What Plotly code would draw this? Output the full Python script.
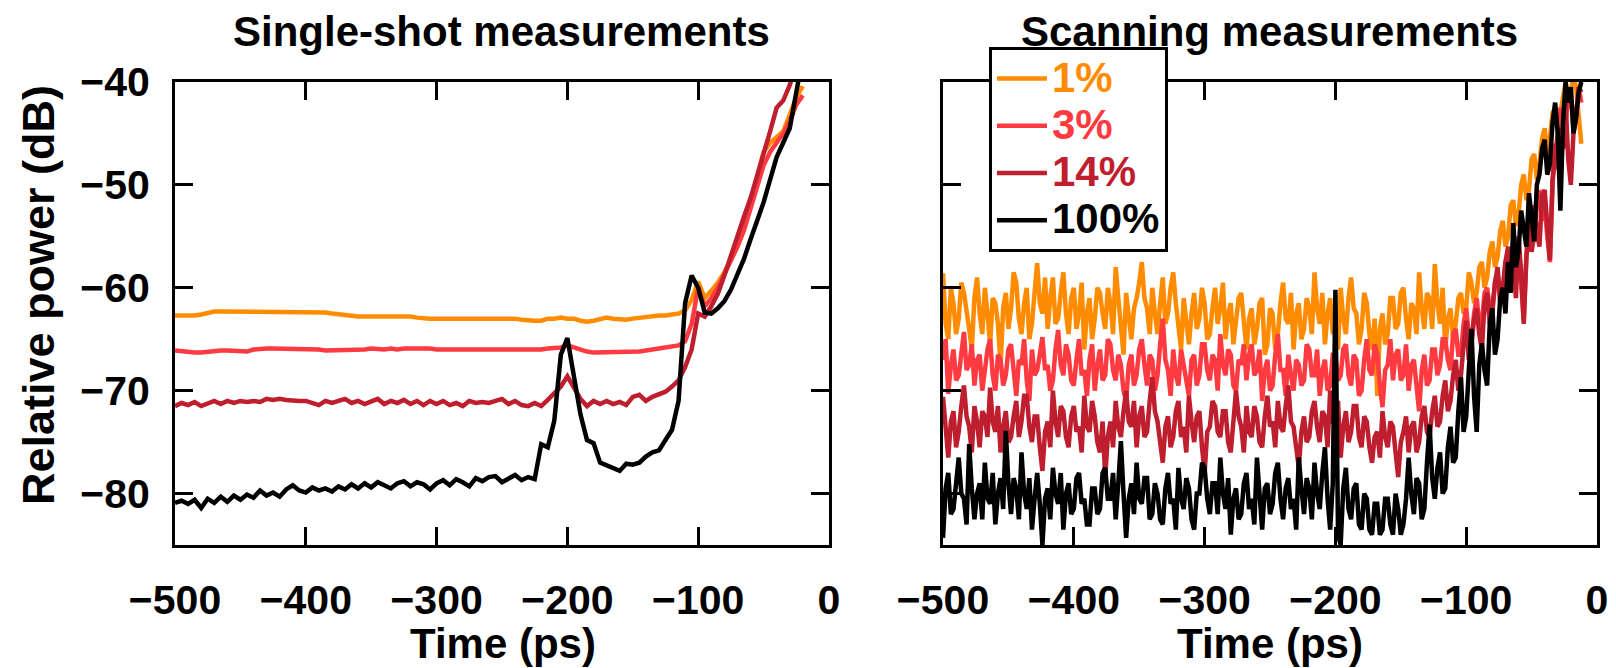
import plotly.graph_objects as go
from plotly.subplots import make_subplots

FONT = "Liberation Sans, Arial, Helvetica, sans-serif"

labels = ["1%", "3%", "14%", "100%"]
colors = ["#FF8C00", "#FF3A40", "#BE1E2D", "#000000"]

x_ticks = [-500, -400, -300, -200, -100, 0]
y_ticks = [-80, -70, -60, -50, -40]

# ---------------- single-shot measurements (time grid, ps) ----------------
t_single = list(range(-500, -15, 5))

single_1 = [
    -62.7, -62.7, -62.8, -62.7, -62.6, -62.4, -62.3, -62.3, -62.3, -62.3,
    -62.3, -62.3, -62.3, -62.3, -62.4, -62.4, -62.4, -62.4, -62.4, -62.4,
    -62.4, -62.4, -62.4, -62.4, -62.5, -62.6, -62.6, -62.7, -62.8, -62.8,
    -62.8, -62.8, -62.8, -62.7, -62.7, -62.7, -62.8, -62.9, -63.0, -63.0,
    -63.0, -63.0, -63.0, -63.0, -62.9, -62.9, -62.9, -62.9, -62.9, -62.9,
    -62.9, -62.9, -63.0, -63.1, -63.2, -63.2, -63.2, -63.0, -63.0, -62.9,
    -63.0, -63.0, -63.2, -63.3, -63.2, -63.0, -62.9, -63.0, -63.1, -63.1,
    -63.0, -62.9, -62.8, -62.8, -62.7, -62.7, -62.6, -62.5, -62.2, -61.2,
    -59.4, -61.0, -60.3, -59.5, -58.5, -57.3, -56.0, -54.2, -51.8, -49.3,
    -46.8, -45.9, -45.3, -44.8, -43.2, -41.5, -40.4,
]
single_3 = [
    -66.1, -66.2, -66.3, -66.3, -66.3, -66.2, -66.2, -66.1, -66.1, -66.1,
    -66.2, -66.2, -66.0, -65.9, -65.9, -65.9, -65.9, -65.9, -65.9, -65.9,
    -65.9, -65.9, -66.0, -66.1, -66.1, -66.0, -66.0, -66.0, -66.0, -66.0,
    -65.9, -66.0, -66.0, -65.9, -66.0, -65.9, -65.9, -65.8, -65.8, -65.9,
    -66.0, -66.0, -66.1, -66.1, -66.1, -66.1, -66.1, -66.1, -66.1, -66.1,
    -66.1, -66.1, -66.1, -66.1, -66.1, -66.0, -66.0, -65.9, -65.9, -65.8,
    -65.6, -65.8, -66.1, -66.2, -66.3, -66.3, -66.3, -66.3, -66.3, -66.3,
    -66.2, -66.2, -66.1, -66.0, -66.0, -65.9, -65.8, -65.6, -65.2, -63.5,
    -60.0, -61.8, -61.0, -60.0, -58.7, -57.4, -56.0, -54.4, -52.3, -50.2,
    -48.1, -46.8, -45.9, -45.0, -43.8, -42.2, -41.3,
]
single_14 = [
    -71.5, -71.2, -71.4, -71.1, -71.5, -71.2, -71.0, -71.3, -71.0, -71.2,
    -71.0, -71.1, -71.0, -71.1, -70.8, -70.9, -70.8, -70.9, -71.0, -71.0,
    -71.0, -71.2, -71.4, -71.0, -71.2, -71.0, -70.8, -71.2, -71.0, -71.3,
    -71.1, -70.8, -71.3, -71.0, -71.2, -70.9, -71.3, -71.0, -71.4, -71.0,
    -71.3, -71.0, -71.4, -71.2, -71.5, -71.0, -71.2, -71.1, -71.2, -71.0,
    -70.8, -71.3, -71.0, -71.4, -71.5, -71.2, -71.5, -70.9, -70.3, -69.6,
    -68.6, -69.8, -70.8, -71.5, -71.0, -71.3, -71.0, -71.3, -71.1, -71.4,
    -70.6, -70.4, -71.0, -70.6, -70.3, -70.1, -69.6, -69.0, -67.7, -66.0,
    -62.5, -62.8, -61.8, -60.6, -58.8, -56.8, -55.0, -53.1, -51.3, -49.2,
    -47.0, -44.8, -42.5, -41.8, -40.3, -38.5, -36.5,
]
single_100 = [
    -80.9, -80.7, -81.0, -80.6, -81.4, -80.5, -80.9, -80.3, -80.8, -80.2,
    -80.6, -80.1, -80.4, -79.7, -80.2, -79.9, -80.3, -79.6, -79.2, -79.7,
    -79.9, -79.4, -79.7, -79.5, -79.8, -79.3, -79.6, -79.1, -79.5, -79.0,
    -79.4, -78.9, -79.2, -79.5, -79.0, -78.8, -79.3, -78.9, -79.1, -79.6,
    -79.0, -78.7, -79.2, -78.6, -78.9, -79.3, -78.5, -78.8, -78.4, -78.3,
    -78.9, -78.5, -78.2, -78.7, -78.4, -78.6, -75.2, -75.5, -72.9, -66.5,
    -64.9, -68.6, -72.3, -74.8, -75.1, -77.0, -77.3, -77.6, -77.8, -77.1,
    -77.2, -77.0, -76.4, -76.0, -75.8, -74.8, -73.8, -71.0, -61.5, -58.8,
    -60.0, -62.4, -62.5, -62.0, -61.3, -60.2, -58.7, -57.2, -55.3, -53.6,
    -51.7, -49.5, -47.3, -45.9, -44.5, -41.0, -37.5,
]

# ---------------- scanning measurements (time grid, ps) ----------------
t_scan = list(range(-500, -11, 2))

scan_1 = [
    -58.6, -63.5, -65.0, -60.0, -61.5, -64.5, -63.0, -59.5, -60.5, -62.0,
    -64.0, -66.0, -61.0, -59.0, -62.5, -64.5, -60.0, -62.5, -65.5, -61.0,
    -61.5, -63.5, -67.5, -62.0, -60.5, -64.0, -62.0, -58.5, -59.5, -63.0,
    -64.5, -61.5, -60.0, -65.0, -63.5, -60.5, -57.6, -61.5, -62.5, -59.0,
    -64.0, -61.0, -59.0, -63.5, -63.0, -60.5, -58.5, -62.5, -64.5, -61.0,
    -60.0, -64.0, -62.5, -59.5, -66.0, -62.5, -61.0, -65.0, -63.0, -60.0,
    -60.5, -62.5, -64.0, -60.0, -61.5, -64.5, -58.0, -61.0, -63.5, -66.5,
    -60.5, -63.0, -65.0, -62.0, -61.0, -59.5, -57.5, -61.0, -62.0, -64.5,
    -60.0, -62.5, -64.5, -61.5, -59.0, -63.5, -62.5, -60.0, -58.5, -61.5,
    -63.5, -66.0, -61.0, -63.0, -65.5, -62.5, -60.5, -64.0, -63.0, -60.0,
    -61.5, -65.0, -64.5, -62.0, -60.0, -63.5, -62.0, -59.5, -65.0, -62.5,
    -61.5, -65.5, -63.5, -61.0, -60.5, -64.0, -66.0, -63.0, -62.0, -65.5,
    -64.0, -61.5, -61.0, -66.5, -65.5, -62.0, -62.5, -66.0, -64.5, -61.5,
    -59.5, -63.0, -63.5, -60.5, -66.0, -62.5, -61.5, -65.0, -64.0, -61.0,
    -62.0, -64.5, -58.5, -62.0, -63.5, -60.5, -65.5, -62.5, -61.0, -64.5,
    -63.5, -66.0, -60.0, -63.0, -64.5, -61.0, -59.0, -62.0, -62.5, -65.5,
    -64.0, -60.5, -61.5, -64.5, -66.0, -63.0, -70.5, -64.0, -62.5, -65.5,
    -64.5, -61.0, -61.0, -64.0, -63.5, -60.5, -60.0, -63.0, -65.0, -61.5,
    -62.0, -64.5, -58.5, -62.0, -64.0, -60.5, -61.0, -64.0, -57.7, -61.5,
    -63.5, -60.0, -66.0, -63.0, -62.0, -65.0, -63.5, -61.0, -60.5, -62.5,
    -62.0, -58.5, -59.5, -61.5, -60.5, -58.0, -57.5, -60.0, -59.0, -56.5,
    -55.5, -58.0, -57.0, -54.5, -53.5, -56.0, -55.0, -52.0, -51.5, -54.0,
    -53.0, -50.0, -49.0, -51.5, -50.5, -47.5, -47.0, -49.5, -48.0, -45.5,
    -44.5, -47.0, -45.5, -43.0, -42.5, -44.5, -43.0, -41.0, -40.0, -42.5,
    -41.0, -39.5, -40.5, -43.0, -46.0,
]
scan_3 = [
    -67.0, -65.0, -70.3, -67.5, -66.0, -69.0, -68.5, -66.5, -64.3, -68.0,
    -67.5, -65.5, -69.5, -67.0, -66.5, -70.0, -68.0, -66.0, -65.0, -68.5,
    -70.0, -66.5, -67.0, -69.5, -68.5, -66.0, -65.5, -68.0, -70.5, -67.0,
    -67.5, -65.0, -69.0, -71.0, -66.0, -68.5, -68.0, -66.5, -64.8, -68.0,
    -67.5, -70.0, -69.0, -66.0, -64.1, -67.5, -68.5, -65.5, -66.5, -69.0,
    -69.5, -67.0, -65.0, -68.5, -68.0, -70.5, -67.0, -65.5, -70.0, -67.5,
    -66.0, -69.0, -68.5, -65.0, -65.5, -68.0, -69.0, -66.5, -67.5, -70.0,
    -71.0, -67.5, -66.5, -69.5, -68.5, -66.0, -65.0, -67.5, -69.5, -66.5,
    -67.0, -70.0, -68.5, -65.5, -63.0, -67.0, -68.0, -70.5, -66.0, -68.5,
    -69.5, -66.0, -67.5, -69.0, -70.5, -67.0, -66.5, -69.5, -68.5, -65.5,
    -65.5, -68.0, -69.0, -66.5, -67.0, -70.0, -64.5, -67.5, -68.5, -66.0,
    -66.5, -69.5, -70.0, -67.0, -67.5, -65.5, -69.0, -66.5, -65.5, -68.5,
    -68.0, -66.0, -71.0, -68.0, -67.0, -70.0, -69.5, -66.5, -64.5, -68.0,
    -68.0, -70.5, -66.5, -68.5, -70.0, -67.0, -67.5, -69.5, -69.0, -65.5,
    -66.0, -68.5, -68.5, -66.0, -70.5, -68.0, -67.0, -70.0, -69.5, -66.5,
    -66.5, -69.0, -68.5, -66.0, -65.5, -68.5, -69.5, -66.5, -67.0, -70.5,
    -70.0, -67.0, -65.0, -68.0, -68.5, -65.5, -66.5, -69.5, -71.6, -68.0,
    -67.5, -65.0, -69.0, -66.5, -66.0, -69.0, -68.5, -65.5, -70.0, -67.5,
    -67.0, -69.5, -72.0, -68.0, -66.5, -69.5, -69.0, -66.0, -66.0, -68.5,
    -67.5, -65.0, -65.0, -67.0, -68.0, -64.5, -64.0, -66.5, -66.5, -63.5,
    -62.0, -64.5, -65.5, -62.5, -61.0, -63.5, -63.5, -60.5, -60.0, -62.0,
    -62.5, -59.5, -58.5, -61.0, -60.5, -57.5, -57.0, -59.5, -59.0, -56.5,
    -56.0, -59.5, -63.2, -57.0, -53.5, -56.5, -55.0, -52.0, -50.5, -53.5,
    -52.0, -55.0, -57.5, -50.0, -46.0, -48.5, -42.5, -45.5, -44.0, -41.5,
    -41.0, -44.5, -43.0, -40.5, -42.0,
]
scan_14 = [
    -70.6, -74.0, -76.5, -73.0, -72.0, -75.5, -74.0, -71.5, -69.5, -72.5,
    -73.5, -76.0, -71.5, -73.0, -75.5, -72.0, -72.5, -74.5, -69.7, -73.0,
    -74.0, -71.5, -76.0, -73.5, -72.0, -75.0, -74.5, -72.5, -71.0, -74.5,
    -73.0, -70.5, -70.5, -73.5, -75.0, -72.5, -72.5, -75.5, -77.8, -74.0,
    -73.0, -75.5, -70.0, -73.0, -74.5, -71.5, -72.0, -74.5, -75.5, -72.5,
    -71.5, -74.0, -73.5, -76.0, -70.5, -73.5, -74.0, -71.0, -72.5, -75.0,
    -76.0, -73.0, -78.4, -74.5, -73.0, -75.5, -71.0, -73.5, -74.5, -72.0,
    -70.0, -73.0, -73.5, -71.0, -75.5, -72.5, -71.5, -74.5, -74.0, -71.0,
    -68.7, -72.0, -73.0, -75.0, -77.0, -73.5, -72.5, -75.5, -74.5, -72.0,
    -71.0, -74.5, -73.5, -76.0, -70.5, -73.0, -75.0, -72.5, -72.0, -75.5,
    -78.0, -74.0, -73.5, -71.0, -71.5, -74.0, -74.5, -72.0, -72.0, -75.0,
    -76.0, -73.0, -70.0, -72.5, -73.5, -76.0, -71.5, -74.0, -74.5, -71.5,
    -72.5, -75.0, -75.5, -72.5, -70.5, -73.5, -73.0, -75.5, -71.0, -73.5,
    -74.0, -71.5, -69.5, -73.0, -73.5, -75.5, -77.5, -74.0, -72.5, -75.0,
    -74.5, -72.0, -71.0, -73.5, -75.0, -72.0, -72.5, -75.5, -70.0, -73.0,
    -73.5, -71.0, -76.5, -73.5, -72.0, -75.0, -74.0, -71.5, -71.5, -74.5,
    -75.5, -72.5, -73.0, -75.5, -77.0, -74.5, -74.0, -76.5, -72.0, -74.5,
    -75.5, -73.0, -73.5, -76.0, -78.4, -75.0, -74.0, -72.5, -76.0, -73.5,
    -73.0, -76.0, -75.0, -72.5, -71.5, -74.0, -74.5, -72.0, -70.5, -73.5,
    -73.0, -70.5, -69.0, -72.0, -71.0, -68.5, -67.0, -70.0, -68.5, -65.5,
    -63.2, -67.0, -65.5, -63.0, -62.0, -64.5, -66.0, -61.5, -60.5, -63.5,
    -62.0, -59.5, -58.0, -61.5, -60.0, -57.5, -56.0, -59.0, -57.5, -61.0,
    -55.0, -58.5, -63.5, -57.0, -54.0, -56.5, -52.0, -54.5, -56.0, -51.0,
    -50.5, -54.0, -57.3, -49.5, -47.0, -45.0, -44.5, -46.5, -42.0, -47.5,
    -50.0, -45.0, -43.5, -40.5, -41.0,
]
scan_100 = [
    -84.3, -79.5, -78.0, -82.0, -81.5, -78.5, -76.5, -80.0, -80.5, -83.0,
    -75.2, -79.5, -82.5, -80.0, -79.0, -82.5, -77.0, -80.5, -81.0, -78.0,
    -83.0, -80.0, -78.5, -81.5, -73.9, -79.0, -82.0, -78.5, -79.5, -82.5,
    -76.0, -80.0, -81.5, -78.5, -83.5, -80.5, -78.0, -81.0, -85.0, -80.5,
    -79.5, -82.5, -77.5, -80.0, -81.0, -78.0, -83.5, -80.0, -79.0, -82.0,
    -81.5, -78.5, -78.0, -81.0, -80.5, -83.0, -83.0, -79.5, -79.5, -82.0,
    -81.5, -78.0, -77.5, -80.5, -80.5, -78.0, -82.5, -79.0, -74.9, -80.0,
    -84.3, -80.5, -79.0, -82.0, -77.0, -80.5, -81.0, -78.5, -78.5, -82.5,
    -82.0, -79.0, -80.0, -82.5, -83.0, -79.5, -78.0, -81.0, -80.5, -83.5,
    -77.5, -80.5, -81.5, -78.5, -79.5, -82.5, -83.5, -80.0, -80.0, -77.0,
    -77.5, -80.5, -82.0, -79.0, -79.0, -82.0, -76.5, -80.0, -81.5, -78.5,
    -84.0, -80.5, -79.5, -82.5, -82.0, -79.0, -78.0, -81.5, -80.5, -83.0,
    -76.5, -80.0, -83.5, -79.5, -79.0, -82.0, -81.0, -78.0, -77.0, -80.5,
    -82.5, -79.5, -78.5, -81.5, -80.5, -83.5, -76.5, -79.5, -82.0, -78.5,
    -79.5, -82.5, -77.0, -80.0, -81.5, -78.0, -75.5, -80.5, -83.5, -79.0,
    -60.2, -84.0, -85.0, -79.5, -77.5, -81.5, -82.5, -79.5, -79.0, -83.0,
    -83.5, -80.0, -80.5, -83.5, -84.0, -81.0, -81.0, -84.0, -83.5, -80.5,
    -80.5, -83.0, -84.0, -80.0, -81.5, -84.0, -83.0, -80.5, -76.5, -80.0,
    -82.0, -78.5, -79.0, -82.5, -81.5, -77.0, -73.3, -78.5, -80.5, -77.5,
    -76.0, -80.0, -79.5, -75.5, -73.5, -77.0, -76.5, -72.0, -68.7, -74.0,
    -72.5, -68.0, -64.0, -70.5, -74.0, -67.5, -65.4, -68.0, -69.5, -63.5,
    -62.0, -66.5, -65.0, -61.0, -60.0, -62.5, -57.5, -60.5, -53.7, -58.0,
    -56.5, -52.5, -54.0, -56.0, -50.8, -53.5, -55.5, -50.0, -49.0, -46.5,
    -45.6, -49.0, -48.0, -44.0, -42.0, -45.0, -52.5, -44.0, -40.0, -42.0,
    -40.5, -45.0, -43.5, -41.0, -40.0,
]

single_series = [single_1, single_3, single_14, single_100]
scan_series = [scan_1, scan_3, scan_14, scan_100]

fig = make_subplots(rows=1, cols=2)

for lab, col, ys in zip(labels, colors, single_series):
    fig.add_trace(go.Scatter(x=t_single, y=ys, mode="lines", name=lab,
                             line=dict(color=col, width=4.5), showlegend=False),
                  row=1, col=1)
for lab, col, ys in zip(labels, colors, scan_series):
    fig.add_trace(go.Scatter(x=t_scan, y=ys, mode="lines",
                             name=f"<span style='color:{col};font-size:42px'>{lab}</span>",
                             line=dict(color=col, width=4.5), showlegend=True),
                  row=1, col=2)

axis_common = dict(
    showline=True, linewidth=3, linecolor="black", mirror="ticks",
    ticks="inside", ticklen=18, tickwidth=3, tickcolor="black",
    showgrid=False, zeroline=False, automargin=False,
    tickfont=dict(family=FONT, size=41, color="black", weight="bold"),
)

fig.update_xaxes(range=[-500, 0], tickvals=x_ticks, ticklabelstandoff=17, **axis_common)
fig.update_yaxes(range=[-85, -40], tickvals=y_ticks, ticklabelstandoff=14, **axis_common)
fig.update_layout(
    xaxis=dict(domain=[0, 0.4599]),
    xaxis2=dict(domain=[0.5401, 1.0]),
    yaxis2=dict(showticklabels=False),
)

title_font = dict(family=FONT, size=42, color="black", weight="bold")
fig.add_annotation(text="Single-shot measurements", x=0.2299, y=1.1101, xref="paper", yref="paper",
                   showarrow=False, xanchor="center", yanchor="middle", font=title_font)
fig.add_annotation(text="Scanning measurements", x=0.7700, y=1.1101, xref="paper", yref="paper",
                   showarrow=False, xanchor="center", yanchor="middle", font=title_font)
fig.add_annotation(text="Time (ps)", x=0.2310, y=-0.2138, xref="paper", yref="paper",
                   showarrow=False, xanchor="center", yanchor="middle", font=title_font)
fig.add_annotation(text="Time (ps)", x=0.7700, y=-0.2138, xref="paper", yref="paper",
                   showarrow=False, xanchor="center", yanchor="middle", font=title_font)
fig.add_annotation(text="Relative power (dB)", x=-0.0956, y=0.540, xref="paper", yref="paper",
                   showarrow=False, xanchor="center", yanchor="middle", textangle=-90,
                   font=dict(family=FONT, size=45, color="black", weight="bold"))

# the page body adds an 8 px offset, so the figure is sized 8 px smaller
fig.update_layout(
    width=1608, height=660,
    margin=dict(l=167, r=19, t=74, b=123, autoexpand=False),
    paper_bgcolor="white", plot_bgcolor="white",
    font=dict(family=FONT, color="black"),
    legend=dict(x=0.5724, y=1.0756, xanchor="left", yanchor="top",
                bgcolor="white", bordercolor="black", borderwidth=3,
                font=dict(family=FONT, size=34, weight="bold"),
                tracegroupgap=0, itemwidth=50),
)

fig.write_html("out.html")
